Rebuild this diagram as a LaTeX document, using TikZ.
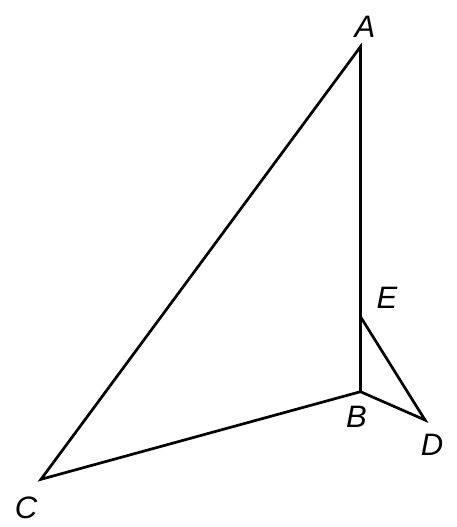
\documentclass[tikz,border=0pt]{standalone}
\usepackage{fontspec}
\setmainfont{Liberation Sans}
\begin{document}
\begin{tikzpicture}[x=1pt,y=1pt,
  seg/.style={line width=2.7pt,line join=miter},
  lbl/.style={font=\fontsize{31}{31}\selectfont\itshape,inner sep=0pt}]
\useasboundingbox (0,0) rectangle (457,527);
\coordinate (A) at (360.5,480.3);
\coordinate (B) at (360.5,135.3);
\coordinate (C) at (41,47.7);
\coordinate (D) at (425,107);
\coordinate (E) at (360.5,210.3);
\draw[seg] (B) -- (A) -- (C) -- cycle;
\draw[seg] (B) -- (D) -- (E);
\node[lbl] (lA) at (365,500.3) {A};
\node[lbl] (lB) at (356.5,110.3) {B};
\node[lbl] (lC) at (26,19) {C};
\node[lbl] (lD) at (432,82) {D};
\node[lbl] (lE) at (387,229) {E};
\end{tikzpicture}
\end{document}
